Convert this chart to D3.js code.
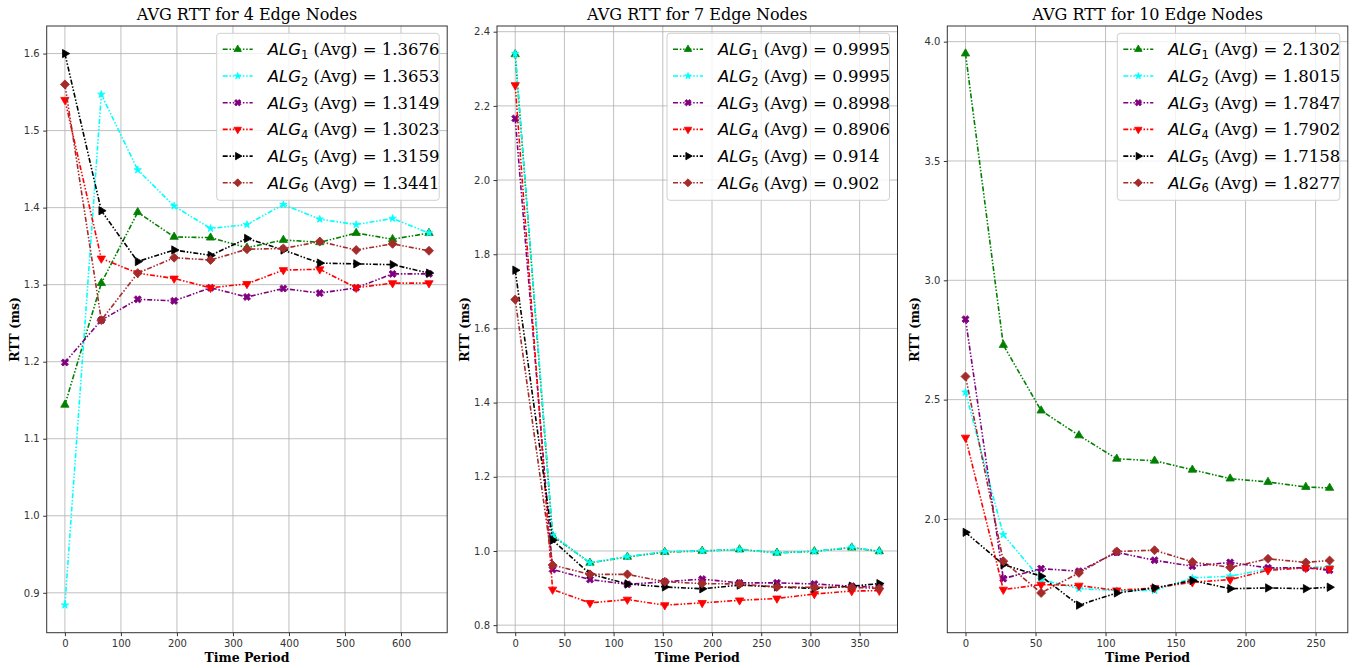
<!DOCTYPE html>
<html>
<head>
<meta charset="utf-8">
<script src="https://cdn.jsdelivr.net/npm/d3@7"></script>
<style>
  body { margin: 0; background: #fff; }
  svg { display: block; }
</style>
</head>
<body>
<div id="chart"></div>
<script>
// panel 1: 4 edge nodes
const time4 = [0, 65, 130, 195, 260, 325, 390, 455, 520, 585, 650];
const alg1_4 = [1.144, 1.302, 1.394, 1.362, 1.361, 1.348, 1.358, 1.355, 1.367, 1.359, 1.367];
const alg2_4 = [0.884, 1.547, 1.449, 1.402, 1.373, 1.378, 1.404, 1.385, 1.378, 1.386, 1.367];
const alg3_4 = [1.199, 1.254, 1.281, 1.279, 1.296, 1.284, 1.295, 1.289, 1.296, 1.314, 1.314];
const alg4_4 = [1.540, 1.334, 1.315, 1.308, 1.296, 1.301, 1.319, 1.320, 1.296, 1.302, 1.302];
const alg5_4 = [1.600, 1.396, 1.330, 1.345, 1.338, 1.360, 1.345, 1.328, 1.327, 1.326, 1.315];
const alg6_4 = [1.560, 1.254, 1.315, 1.335, 1.332, 1.346, 1.347, 1.356, 1.345, 1.353, 1.344];
const avg4 = ["1.3676", "1.3653", "1.3149", "1.3023", "1.3159", "1.3441"];

// panel 2: 7 edge nodes
const time7 = [0, 38, 76, 114, 152, 190, 228, 266, 304, 342, 370];
const alg1_7 = [2.339, 1.041, 0.968, 0.984, 0.997, 1.000, 1.004, 0.995, 0.999, 1.009, 0.999];
const alg2_7 = [2.341, 1.043, 0.968, 0.985, 0.998, 1.000, 1.004, 0.995, 0.999, 1.010, 0.999];
const alg3_7 = [2.166, 0.950, 0.923, 0.910, 0.917, 0.924, 0.914, 0.914, 0.911, 0.905, 0.902];
const alg4_7 = [2.256, 0.896, 0.860, 0.869, 0.854, 0.860, 0.867, 0.872, 0.884, 0.892, 0.893];
const alg5_7 = [1.757, 1.029, 0.938, 0.911, 0.903, 0.898, 0.908, 0.903, 0.899, 0.905, 0.912];
const alg6_7 = [1.678, 0.962, 0.937, 0.937, 0.917, 0.912, 0.911, 0.903, 0.902, 0.902, 0.899];
const avg7 = ["0.9995", "0.9995", "0.8998", "0.8906", "0.914", "0.902"];

// panel 3: 10 edge nodes
const time10 = [0, 27, 54, 81, 108, 135, 162, 189, 216, 243, 260];
const alg1_10 = [3.950, 2.729, 2.454, 2.350, 2.252, 2.244, 2.206, 2.169, 2.155, 2.134, 2.130];
const alg2_10 = [2.531, 1.934, 1.746, 1.708, 1.700, 1.700, 1.753, 1.760, 1.791, 1.797, 1.799];
const alg3_10 = [2.837, 1.750, 1.792, 1.781, 1.860, 1.827, 1.802, 1.818, 1.795, 1.795, 1.785];
const alg4_10 = [2.341, 1.704, 1.725, 1.721, 1.701, 1.711, 1.735, 1.746, 1.785, 1.795, 1.792];
const alg5_10 = [1.944, 1.809, 1.760, 1.639, 1.690, 1.711, 1.742, 1.708, 1.711, 1.708, 1.714];
const alg6_10 = [2.597, 1.823, 1.690, 1.774, 1.864, 1.869, 1.820, 1.797, 1.833, 1.818, 1.826];
const avg10 = ["2.1302", "1.8015", "1.7847", "1.7902", "1.7158", "1.8277"];

const titles = ["AVG RTT for 4 Edge Nodes", "AVG RTT for 7 Edge Nodes", "AVG RTT for 10 Edge Nodes"];
const xTicks = [[0, 100, 200, 300, 400, 500, 600], [0, 50, 100, 150, 200, 250, 300, 350], [0, 50, 100, 150, 200, 250]];
const yTicks = [[0.9, 1.0, 1.1, 1.2, 1.3, 1.4, 1.5, 1.6], [0.8, 1.0, 1.2, 1.4, 1.6, 1.8, 2.0, 2.2, 2.4], [2.0, 2.5, 3.0, 3.5, 4.0]];

const colors = ["green", "cyan", "purple", "red", "black", "brown"];

const panels = [
    { time: time4, series: [alg1_4, alg2_4, alg3_4, alg4_4, alg5_4, alg6_4], avg: avg4 },
    { time: time7, series: [alg1_7, alg2_7, alg3_7, alg4_7, alg5_7, alg6_7], avg: avg7 },
    { time: time10, series: [alg1_10, alg2_10, alg3_10, alg4_10, alg5_10, alg6_10], avg: avg10 }
];

const W = 1354, H = 668;
const plotW = 400.5, plotTop = 26, plotBottom = 632.7;
const lefts = [46.7, 497, 947.3];
const dash = "5,1.8,1.5,1.8,1.5,1.8";

const svg = d3.select("#chart").append("svg")
    .attr("width", W)
    .attr("height", H);

// marker shapes: ^ * X v > D
function marker(g, k, x, y, s) {
    const shapes = [
        [d3.symbolTriangle, 0, 30],
        [d3.symbolStar, 0, 17],
        [d3.symbolCross, 45, 32],
        [d3.symbolTriangle, 180, 30],
        [d3.symbolTriangle, 90, 30],
        [d3.symbolSquare, 45, 40]
    ];
    const [type, rot, size] = shapes[k];
    g.append("path")
        .attr("d", d3.symbol().type(type).size(size * s)())
        .attr("transform", `translate(${x},${y}) rotate(${rot})`)
        .attr("fill", colors[k])
        .attr("stroke", colors[k])
        .attr("stroke-width", 0.8);
}

function padded(ext) {
    const r = ext[1] - ext[0];
    return [ext[0] - r * 0.05, ext[1] + r * 0.05];
}

panels.forEach((p, i) => {
    const left = lefts[i];
    const g = svg.append("g");

    const x = d3.scaleLinear()
        .domain(padded(d3.extent(p.time)))
        .range([left, left + plotW]);
    const allY = p.series.flat();
    const y = d3.scaleLinear()
        .domain(padded(d3.extent(allY)))
        .range([plotBottom, plotTop]);

    // grid
    g.selectAll(".gx").data(xTicks[i]).enter().append("line")
        .attr("x1", d => x(d)).attr("x2", d => x(d))
        .attr("y1", plotTop).attr("y2", plotBottom)
        .attr("stroke", "#b0b0b0").attr("stroke-width", 0.8);
    g.selectAll(".gy").data(yTicks[i]).enter().append("line")
        .attr("x1", left).attr("x2", left + plotW)
        .attr("y1", d => y(d)).attr("y2", d => y(d))
        .attr("stroke", "#b0b0b0").attr("stroke-width", 0.8);

    // axes
    const xAxis = d3.axisBottom(x).tickValues(xTicks[i]).tickSize(3.5).tickPadding(3.5).tickFormat(d3.format("d"));
    const yAxis = d3.axisLeft(y).tickValues(yTicks[i]).tickSize(3.5).tickPadding(3.5).tickFormat(d3.format(".1f"));
    const ax = g.append("g").attr("transform", `translate(0,${plotBottom})`).call(xAxis);
    const ay = g.append("g").attr("transform", `translate(${left},0)`).call(yAxis);
    [ax, ay].forEach(a => {
        a.select(".domain").remove();
        a.selectAll("line").attr("stroke", "#333");
        a.selectAll("text")
            .attr("fill", "#333")
            .style("font-family", "DejaVu Sans")
            .style("font-size", "10px");
    });

    // lines and markers
    const line = d3.line()
        .x((d, j) => x(p.time[j]))
        .y(d => y(d));
    p.series.forEach((s, k) => {
        g.append("path")
            .datum(s)
            .attr("d", line)
            .attr("fill", "none")
            .attr("stroke", colors[k])
            .attr("stroke-width", 1.6)
            .attr("stroke-dasharray", dash);
        s.forEach((v, j) => marker(g, k, x(p.time[j]), y(v), 1));
    });

    // frame
    g.append("rect")
        .attr("x", left).attr("y", plotTop)
        .attr("width", plotW).attr("height", plotBottom - plotTop)
        .attr("fill", "none")
        .attr("stroke", "#333")
        .attr("stroke-width", 1);

    // title and labels
    g.append("text")
        .attr("x", left + plotW / 2).attr("y", 20)
        .attr("text-anchor", "middle")
        .style("font-family", "DejaVu Serif")
        .style("font-size", "16px")
        .text(titles[i]);
    g.append("text")
        .attr("x", left + plotW / 2).attr("y", 662)
        .attr("text-anchor", "middle")
        .style("font-family", "DejaVu Serif")
        .style("font-weight", "bold")
        .style("font-size", "12.5px")
        .text("Time Period");
    g.append("text")
        .attr("transform", `translate(${left - 28},${(plotTop + plotBottom) / 2}) rotate(-90)`)
        .attr("text-anchor", "middle")
        .style("font-family", "DejaVu Serif")
        .style("font-weight", "bold")
        .style("font-size", "12.5px")
        .text("RTT (ms)");

    // legend
    const lx = left + 170, ly = 33.3;
    const lg = g.append("g");
    lg.append("rect")
        .attr("x", lx).attr("y", ly)
        .attr("width", 222.5).attr("height", 167)
        .attr("rx", 3)
        .attr("fill", "#fff").attr("fill-opacity", 0.8)
        .attr("stroke", "#d0d0d0").attr("stroke-width", 1);
    p.avg.forEach((a, k) => {
        const cy = 49.3 + k * 26.7;
        lg.append("line")
            .attr("x1", lx + 6).attr("x2", lx + 36)
            .attr("y1", cy).attr("y2", cy)
            .attr("stroke", colors[k])
            .attr("stroke-width", 1.6)
            .attr("stroke-dasharray", dash);
        marker(lg, k, lx + 21, cy, 0.8);
        const t = lg.append("text")
            .attr("x", lx + 51).attr("y", cy + 6)
            .style("font-size", "16.5px");
        t.append("tspan")
            .style("font-family", "DejaVu Sans")
            .style("font-style", "italic")
            .text("ALG");
        t.append("tspan")
            .attr("dy", 3.5)
            .style("font-family", "DejaVu Sans")
            .style("font-size", "11.5px")
            .text(String(k + 1));
        t.append("tspan")
            .attr("dy", -3.5)
            .style("font-family", "DejaVu Serif")
            .text(` (Avg) = ${a}`);
    });
});
</script>
</body>
</html>
